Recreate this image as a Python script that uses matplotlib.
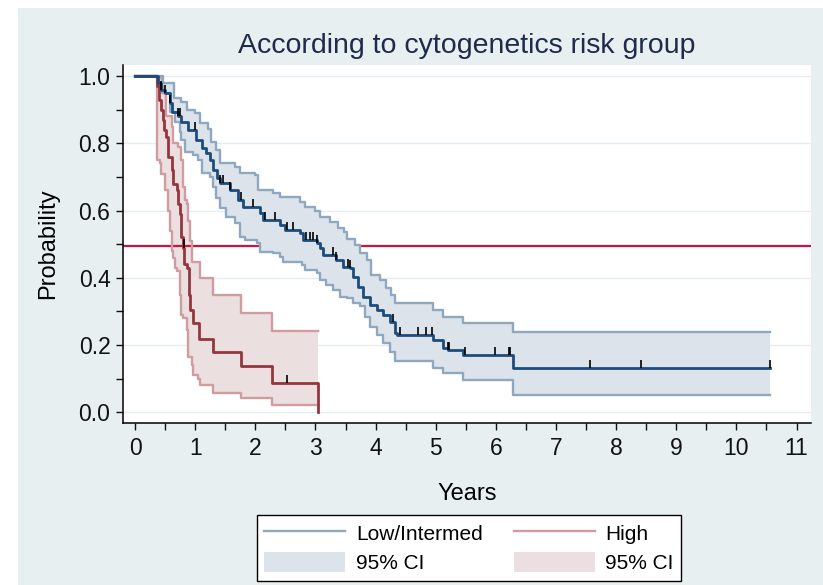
import matplotlib
matplotlib.use('Agg')
import matplotlib.pyplot as plt
from matplotlib.patches import Rectangle, Patch
from matplotlib.lines import Line2D
import numpy as np

plt.rcParams['font.family'] = ['Liberation Sans', 'DejaVu Sans']

"""
Kaplan-Meier estimates read off the figure (years, probability)
"""
# Low/Intermed group
low_t = [0, 0.38, 0.44, 0.50, 0.58, 0.61, 0.72, 0.77, 0.88, 1.02, 1.11, 1.18, 1.24, 1.30, 1.36, 1.41,
         1.58, 1.71, 1.80, 2.07, 2.13, 2.41, 2.49, 2.74, 2.80, 3.02, 3.07, 3.13, 3.35, 3.46, 3.57,
         3.63, 3.71, 3.79, 3.90, 4.02, 4.13, 4.24, 4.32, 4.35, 4.96, 5.12, 5.21, 5.46, 6.29, 10.56]
low_s = [1.0, 0.98, 0.96, 0.95, 0.92, 0.894, 0.88, 0.864, 0.839, 0.81, 0.785, 0.77, 0.75, 0.72, 0.696, 0.681,
         0.661, 0.631, 0.611, 0.592, 0.572, 0.557, 0.542, 0.533, 0.512, 0.502, 0.49, 0.468, 0.453, 0.433, 0.428,
         0.403, 0.373, 0.344, 0.319, 0.304, 0.289, 0.269, 0.235, 0.230, 0.215, 0.190, 0.185, 0.170, 0.131, 0.131]

low_up_t = [0, 0.38, 0.47, 0.64, 0.77, 0.86, 0.99, 1.08, 1.22, 1.27, 1.35, 1.41, 1.66, 1.74, 1.99, 2.05,
            2.30, 2.41, 2.74, 2.82, 2.99, 3.07, 3.25, 3.38, 3.48, 3.52, 3.66, 3.74, 3.85, 3.93, 4.07,
            4.18, 4.26, 4.32, 4.96, 5.12, 5.46, 6.29, 10.56]
low_up_s = [1.0, 1.0, 0.978, 0.934, 0.923, 0.899, 0.889, 0.859, 0.844, 0.805, 0.780, 0.740, 0.730, 0.711, 0.706, 0.661,
            0.651, 0.641, 0.626, 0.611, 0.600, 0.580, 0.565, 0.548, 0.535, 0.515, 0.497, 0.473, 0.453, 0.408, 0.394,
            0.369, 0.349, 0.324, 0.304, 0.284, 0.265, 0.240, 0.240]

low_lo_t = [0, 0.38, 0.47, 0.58, 0.66, 0.75, 0.77, 0.83, 0.97, 1.05, 1.11, 1.24, 1.30, 1.35, 1.41, 1.52,
            1.66, 1.74, 1.83, 2.02, 2.07, 2.30, 2.41, 2.46, 2.77, 2.82, 3.02, 3.07, 3.18, 3.29, 3.41,
            3.52, 3.63, 3.74, 3.82, 3.90, 4.02, 4.13, 4.24, 4.32, 4.96, 5.12, 5.46, 6.29, 10.56]
low_lo_s = [1.0, 0.97, 0.949, 0.894, 0.864, 0.834, 0.810, 0.775, 0.765, 0.750, 0.711, 0.701, 0.671, 0.636, 0.607, 0.582,
            0.562, 0.522, 0.512, 0.502, 0.478, 0.473, 0.463, 0.448, 0.438, 0.423, 0.413, 0.394, 0.379, 0.364, 0.344,
            0.339, 0.325, 0.315, 0.284, 0.255, 0.230, 0.205, 0.180, 0.153, 0.131, 0.116, 0.096, 0.051, 0.051]

low_cens = [0.44, 0.50, 0.58, 0.72, 0.74, 0.99, 1.41, 1.46, 1.58, 1.77, 1.96, 2.16, 2.33, 2.52, 2.63,
            2.85, 2.91, 2.96, 3.02, 3.29, 3.35, 3.54, 3.57, 4.29, 4.40, 4.71, 4.84, 4.93, 5.21, 5.22,
            5.48, 5.98, 6.22, 6.23, 7.56, 8.41, 10.55]

# High group
high_t = [0, 0.36, 0.40, 0.43, 0.46, 0.48, 0.52, 0.55, 0.61, 0.63, 0.69, 0.72, 0.75, 0.77, 0.80, 0.82,
          0.87, 0.89, 0.91, 0.96, 1.07, 1.30, 1.77, 2.27, 3.04]
high_s = [1.0, 0.97, 0.93, 0.90, 0.87, 0.84, 0.82, 0.76, 0.72, 0.68, 0.66, 0.62, 0.59, 0.52, 0.49, 0.44,
          0.43, 0.35, 0.304, 0.265, 0.217, 0.178, 0.138, 0.086, 0.0]

high_up_t = [0, 0.36, 0.45, 0.52, 0.61, 0.63, 0.72, 0.77, 0.80, 0.83, 0.86, 0.88, 0.91, 0.94, 1.08,
             1.30, 1.77, 2.27, 3.04]
high_up_s = [1.0, 0.995, 0.95, 0.88, 0.85, 0.80, 0.79, 0.75, 0.67, 0.63, 0.62, 0.57, 0.51, 0.448, 0.398,
             0.349, 0.294, 0.243, 0.243]

high_lo_t = [0, 0.36, 0.41, 0.44, 0.50, 0.55, 0.58, 0.61, 0.63, 0.66, 0.69, 0.75, 0.77, 0.80, 0.86,
             0.88, 0.94, 0.97, 1.05, 1.08, 1.30, 1.77, 2.27, 3.04]
high_lo_s = [1.0, 0.75, 0.74, 0.71, 0.66, 0.60, 0.54, 0.48, 0.46, 0.43, 0.42, 0.35, 0.29, 0.28, 0.245,
             0.165, 0.141, 0.111, 0.10, 0.081, 0.056, 0.042, 0.022, 0.022]

high_cens = [0.81, 2.53]

median_line = 0.494

"""
Colours
"""
bg = '#e8eff1'
c_low = '#1b4c7c'
c_low_ci = '#8fa8c0'
c_low_fill = '#dde3ea'
c_high = '#943540'
c_high_ci = '#cf9ca0'
c_high_fill = '#ecdfe0'
c_ref = '#cc1440'

"""
Figure
"""
fig = plt.figure(figsize=(8.23, 5.85), dpi=100)
fig.patches.append(Rectangle((18/823, 0), 1, 1 - 8/585, transform=fig.transFigure,
                             facecolor=bg, edgecolor='none', zorder=-10))
ax = fig.add_axes([123/823, 1 - 423/585, (811-123)/823, (423-65)/585])
ax.set_facecolor('white')


def step_at(t, s, x):
    idx = np.searchsorted(t, x, side='right') - 1
    return np.asarray(s)[idx]


# confidence bands
grid_h = np.union1d(high_up_t, high_lo_t)
ax.fill_between(grid_h, step_at(high_up_t, high_up_s, grid_h), step_at(high_lo_t, high_lo_s, grid_h),
                step='post', color=c_high_fill, lw=0, zorder=1)

ax.axhline(median_line, color=c_ref, lw=1.6, zorder=2)

grid_l = np.union1d(low_up_t, low_lo_t)
ax.fill_between(grid_l, step_at(low_up_t, low_up_s, grid_l), step_at(low_lo_t, low_lo_s, grid_l),
                step='post', color=c_low_fill, lw=0, zorder=3)

# CI bounds
for t, s, c in [(high_up_t, high_up_s, c_high_ci), (high_lo_t, high_lo_s, c_high_ci),
                (low_up_t, low_up_s, c_low_ci), (low_lo_t, low_lo_s, c_low_ci)]:
    ax.step(t, s, where='post', color=c, lw=1.7, zorder=4)

# survival curves
ax.step(high_t, high_s, where='post', color=c_high, lw=2.0, zorder=5)
ax.step(low_t, low_s, where='post', color=c_low, lw=2.0, zorder=5)

# censoring marks
for t, s, cens in [(low_t, low_s, low_cens), (high_t, high_s, high_cens)]:
    y0 = step_at(t, s, cens)
    ax.vlines(cens, y0, y0 + 0.024, color='black', lw=1.2, zorder=6)

"""
Axes
"""
ax.set_xlim(-0.2, 11.24)
ax.set_ylim(-0.032, 1.033)
ax.set_xticks(np.arange(0, 12, 1))
ax.set_xticks(np.arange(0, 11.01, 0.5), minor=True)
ax.set_yticks(np.arange(0, 1.01, 0.2))
ax.set_yticklabels(['0.0', '0.2', '0.4', '0.6', '0.8', '1.0'])
ax.set_yticks(np.arange(0, 1.01, 0.1), minor=True)
ax.tick_params(which='both', direction='out', length=5, width=1, labelsize=16.5, colors='#111111')
ax.tick_params(axis='x', pad=5)
ax.tick_params(axis='y', pad=4)
ax.yaxis.grid(True, color='#e3edf0', lw=1, zorder=0)
ax.set_axisbelow(True)
for sp in ['top', 'right']:
    ax.spines[sp].set_visible(False)
for sp in ['left', 'bottom']:
    ax.spines[sp].set_linewidth(1.1)

ax.set_xlabel('Years', fontsize=17, labelpad=17)
fig.text(48/823, 1 - 244/585, 'Probability', rotation=90, fontsize=17, ha='center', va='center')
fig.text(467/823, 1 - 46/585, 'According to cytogenetics risk group', fontsize=20.5,
         color='#1e2b4a', ha='center', va='center')

"""
Legend
"""
handles = [Line2D([], [], color=c_low_ci, lw=1.7),
           Patch(facecolor=c_low_fill, edgecolor='none'),
           Line2D([], [], color=c_high_ci, lw=1.7),
           Patch(facecolor=c_high_fill, edgecolor='none')]
labels = ['Low/Intermed', '95% CI', 'High', '95% CI']
leg = fig.legend(handles, labels, ncol=2, loc='center', bbox_to_anchor=(469/823, 1 - 548/585),
                 fontsize=15, frameon=True, fancybox=False, framealpha=1, handlelength=3.9, handleheight=1.1,
                 handletextpad=0.5, columnspacing=1.5, labelspacing=0.4, borderpad=0.35)
leg.get_frame().set_edgecolor('black')
leg.get_frame().set_linewidth(1.0)
leg.get_frame().set_facecolor('white')

fig.savefig('out.png', dpi=100)
